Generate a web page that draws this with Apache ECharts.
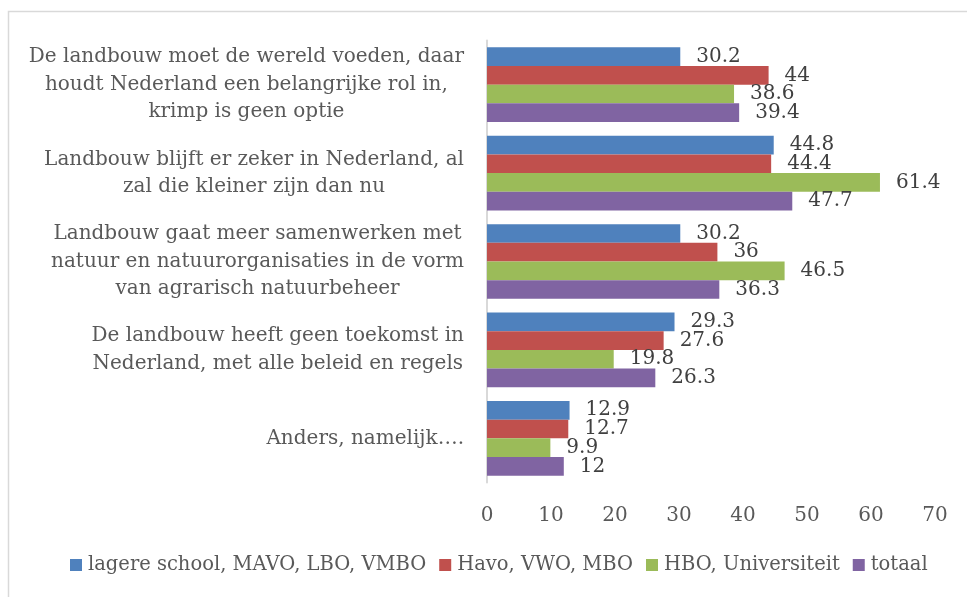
<!DOCTYPE html>
<html>
<head>
<meta charset="utf-8">
<script src="https://cdn.jsdelivr.net/npm/echarts@6/dist/echarts.min.js"></script>
<style>html,body{margin:0;padding:0;background:#fff}#c{width:967px;height:597px}</style>
</head>
<body>
<div id="c"></div>
<script>
const categories = [
  "De landbouw moet de wereld voeden, daar\nhoudt Nederland een belangrijke rol in,\nkrimp is geen optie",
  "Landbouw blijft er zeker in Nederland, al\nzal die kleiner zijn dan nu",
  "Landbouw gaat meer samenwerken met\nnatuur en natuurorganisaties in de vorm\nvan agrarisch natuurbeheer",
  "De landbouw heeft geen toekomst in\nNederland, met alle beleid en regels",
  "Anders, namelijk…."
];
const seriesNames = ["lagere school, MAVO, LBO, VMBO", "Havo, VWO, MBO", "HBO, Universiteit", "totaal"];
const lagere = [30.2, 44.8, 30.2, 29.3, 12.9];
const havo = [44, 44.4, 36, 27.6, 12.7];
const hbo = [38.6, 61.4, 46.5, 19.8, 9.9];
const totaal = [39.4, 47.7, 36.3, 26.3, 12];
const xTicks = [0, 10, 20, 30, 40, 50, 60, 70];
const colors = ["#4f81bd", "#c0504d", "#9bbb59", "#8064a2"];

const FONT = "DejaVu Serif";
const chart = echarts.init(document.getElementById('c'), null, {renderer: 'canvas'});
const values = [lagere, havo, hbo, totaal];
chart.setOption({
  animation: false,
  backgroundColor: '#fff',
  color: colors,
  graphic: [{
    type: 'rect', silent: true,
    shape: {x: 8.5, y: 11.5, width: 980, height: 600},
    style: {fill: 'none', stroke: '#d9d9d9', lineWidth: 1.5}
  }],
  grid: {left: 487, right: 32, top: 40.5, bottom: 114.5, containLabel: false},
  legend: {
    bottom: 17, left: 65,
    itemWidth: 12, itemHeight: 12, itemGap: 13,
    icon: 'rect',
    textStyle: {fontFamily: FONT, fontSize: 19.5, color: '#595959', padding: [0, 0, 0, 1]},
    data: seriesNames
  },
  xAxis: {
    type: 'value', min: xTicks[0], max: xTicks[xTicks.length - 1], interval: 10,
    axisLine: {show: false}, axisTick: {show: false}, splitLine: {show: false},
    axisLabel: {fontFamily: FONT, fontSize: 20, color: '#595959', margin: 23}
  },
  yAxis: {
    type: 'category', inverse: true, data: categories,
    axisLine: {show: true, lineStyle: {color: '#d9d9d9', width: 2}},
    axisTick: {show: false},
    axisLabel: {
      margin: 23, align: 'right', fontFamily: FONT, fontSize: 20, color: '#595959', lineHeight: 27.5,
      formatter: function (v) { return v.split('\n').map(function (s) { return '{c|' + s + '}'; }).join('\n'); },
      rich: {c: {align: 'center', fontFamily: FONT, fontSize: 20, color: '#595959', lineHeight: 27.5}}
    }
  },
  series: seriesNames.map(function (name, i) {
    return {
      name: name, type: 'bar', data: values[i],
      barGap: '0%', barCategoryGap: '15.5%',
      itemStyle: {color: colors[i]},
      label: {show: true, position: 'right', distance: 16, fontFamily: FONT, fontSize: 20, color: '#404040'}
    };
  })
});
</script>
</body>
</html>
